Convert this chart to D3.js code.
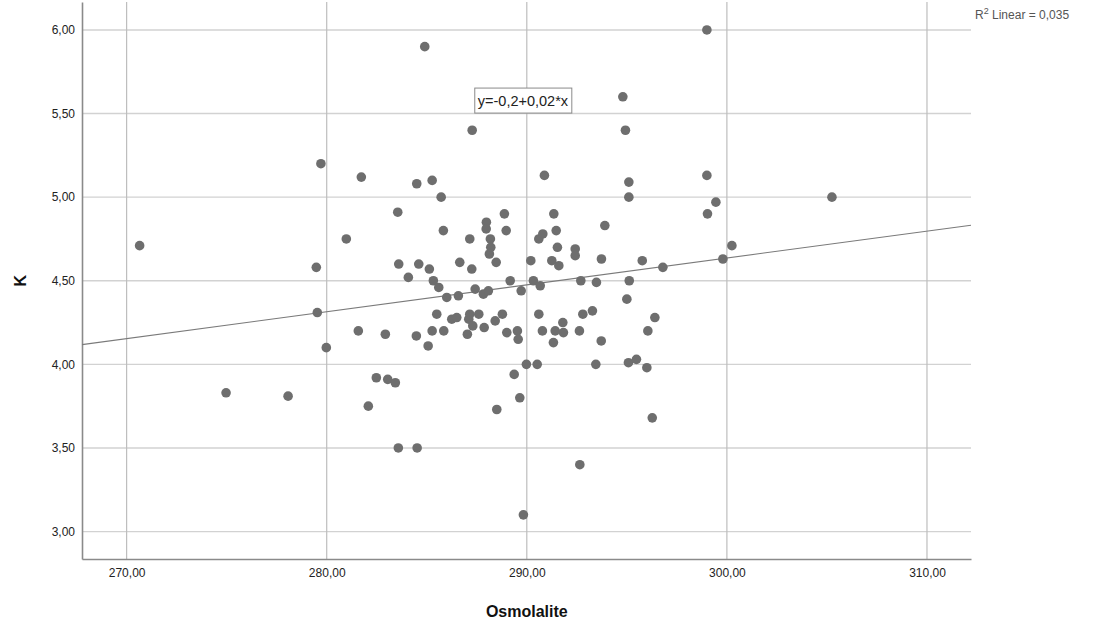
<!DOCTYPE html>
<html>
<head>
<meta charset="utf-8">
<script src="https://cdn.jsdelivr.net/npm/d3@7"></script>
<style>
  body { margin: 0; background: #fff; }
  svg { display: block; font-family: "Liberation Sans", Arial, sans-serif; }
</style>
</head>
<body>
<svg id="chart" width="1093" height="629"></svg>
<script>
// Osmolalite (x) / K (y)
const osmolalite = [
  270.65, 274.97, 278.07, 279.48, 279.53, 279.71, 279.98, 280.98, 281.58, 281.73,
  282.08, 282.48, 282.93, 283.05, 283.43, 283.55, 283.6, 283.58, 284.08, 284.48,
  284.5, 284.52, 284.6, 284.9, 285.07, 285.13, 285.27, 285.27, 285.33, 285.5,
  285.6, 285.72, 285.83, 285.85, 286.0, 286.25, 286.5, 286.58, 286.65, 287.03,
  287.1, 287.15, 287.25, 287.27, 287.3, 287.15, 287.6, 287.42, 287.83, 287.87,
  287.98, 287.97, 288.08, 288.13, 288.18, 288.2, 288.42, 288.47, 288.5, 288.78,
  288.88, 288.97, 289.0, 289.17, 289.37, 289.53, 289.57, 289.65, 289.72, 289.83,
  289.98, 290.2, 290.33, 290.52, 290.6, 290.6, 290.67, 290.78, 290.8, 290.88,
  291.25, 291.33, 291.35, 291.42, 291.47, 291.53, 291.6, 291.8, 291.83, 292.42,
  292.42, 292.63, 292.65, 292.7, 292.8, 293.28, 293.45, 293.48, 293.72, 293.73,
  293.9, 294.8, 294.93, 295.0, 295.08, 295.1, 295.1, 295.12, 295.48, 295.77,
  296.0, 296.05, 296.27, 296.4, 296.8, 299.0, 299.0, 299.03, 299.45, 299.8,
  300.25, 305.25
];
const potassium = [
  4.71, 3.83, 3.81, 4.58, 4.31, 5.20, 4.10, 4.75, 4.20, 5.12,
  3.75, 3.92, 4.18, 3.91, 3.89, 4.91, 4.60, 3.50, 4.52, 4.17,
  5.08, 3.50, 4.60, 5.90, 4.11, 4.57, 5.10, 4.20, 4.50, 4.30,
  4.46, 5.00, 4.80, 4.20, 4.40, 4.27, 4.28, 4.41, 4.61, 4.18,
  4.27, 4.75, 4.57, 5.40, 4.23, 4.30, 4.30, 4.45, 4.42, 4.22,
  4.85, 4.81, 4.44, 4.66, 4.75, 4.70, 4.26, 4.61, 3.73, 4.30,
  4.90, 4.80, 4.19, 4.50, 3.94, 4.20, 4.15, 3.80, 4.44, 3.10,
  4.00, 4.62, 4.50, 4.00, 4.30, 4.75, 4.47, 4.20, 4.78, 5.13,
  4.62, 4.13, 4.90, 4.20, 4.80, 4.70, 4.59, 4.25, 4.19, 4.69,
  4.65, 4.20, 3.40, 4.50, 4.30, 4.32, 4.00, 4.49, 4.14, 4.63,
  4.83, 5.60, 5.40, 4.39, 4.01, 5.09, 5.00, 4.50, 4.03, 4.62,
  3.98, 4.20, 3.68, 4.28, 4.58, 6.00, 5.13, 4.90, 4.97, 4.63,
  4.71, 5.00
];

const xTicks = [270, 280, 290, 300, 310];
const yTicks = [3.0, 3.5, 4.0, 4.5, 5.0, 5.5, 6.0];

// linear fit drawn in the picture
const fitIntercept = -0.185;
const fitSlope = 0.01607;
const fitLabel = 'y=-0,2+0,02*x';
const r2Label = ' Linear = 0,035';

const svg = d3.select('#chart');

const PLOT_LEFT = 82;
const PLOT_RIGHT = 971;
const PLOT_TOP = 2;
const PLOT_BOTTOM = 559;

const x = d3.scaleLinear().domain([267.77, 312.2]).range([PLOT_LEFT, PLOT_RIGHT]);
const y = d3.scaleLinear().domain([2.836, 6.167]).range([PLOT_BOTTOM, PLOT_TOP]);

const fmt = d3.formatLocale({ decimal: ',', thousands: '.', grouping: [3], currency: ['', ''] }).format('.2f');

// grid
svg.append('g')
    .selectAll('line')
    .data(yTicks)
    .join('line')
    .attr('x1', PLOT_LEFT)
    .attr('x2', PLOT_RIGHT)
    .attr('y1', d => y(d))
    .attr('y2', d => y(d))
    .attr('stroke', '#d2d2d2')
    .attr('stroke-width', 1.4);

svg.append('g')
    .selectAll('line')
    .data(xTicks)
    .join('line')
    .attr('x1', d => x(d))
    .attr('x2', d => x(d))
    .attr('y1', PLOT_TOP)
    .attr('y2', PLOT_BOTTOM)
    .attr('stroke', '#bdbdbd')
    .attr('stroke-width', 1.2);

// axes
const xAxis = svg.append('g')
    .attr('transform', `translate(0,${PLOT_BOTTOM})`)
    .call(d3.axisBottom(x).tickValues(xTicks).tickFormat(fmt).tickSize(0).tickPadding(9));
const yAxis = svg.append('g')
    .attr('transform', `translate(${PLOT_LEFT},0)`)
    .call(d3.axisLeft(y).tickValues(yTicks).tickFormat(fmt).tickSize(0).tickPadding(7));

[xAxis, yAxis].forEach(a => {
    a.select('.domain').attr('stroke', '#8a8a8a').attr('stroke-width', 1.6);
    a.selectAll('text').attr('fill', '#222').attr('font-size', 12)
        .attr('font-family', '"Liberation Sans", Arial, sans-serif');
});

// fit line
const xd = x.domain();
svg.append('line')
    .attr('x1', x(xd[0]))
    .attr('y1', y(fitIntercept + fitSlope * xd[0]))
    .attr('x2', x(xd[1]))
    .attr('y2', y(fitIntercept + fitSlope * xd[1]))
    .attr('stroke', '#7a7a7a')
    .attr('stroke-width', 1.1);

// points
svg.append('g')
    .selectAll('circle')
    .data(osmolalite.map((v, i) => [v, potassium[i]]))
    .join('circle')
    .attr('cx', d => x(d[0]))
    .attr('cy', d => y(d[1]))
    .attr('r', 4.8)
    .attr('fill', '#6e6e6e');

// equation box
const eq = svg.append('g').attr('transform', `translate(${x(287.4)},${y(5.575)})`);
const eqText = eq.append('text')
    .attr('x', 3)
    .attr('y', 0)
    .attr('dy', '0.35em')
    .attr('font-size', 14.5)
    .attr('fill', '#222')
    .text(fitLabel);
const bb = eqText.node().getBBox();
eq.insert('rect', 'text')
    .attr('x', 0)
    .attr('y', bb.y - 5)
    .attr('width', bb.width + 6)
    .attr('height', bb.height + 9)
    .attr('fill', '#fff')
    .attr('stroke', '#8a8a8a')
    .attr('stroke-width', 1);

// R squared
const r2 = svg.append('text')
    .attr('x', 975)
    .attr('y', 19)
    .attr('font-size', 12)
    .attr('fill', '#555');
r2.append('tspan').text('R');
r2.append('tspan').attr('dy', -5).attr('font-size', 9).text('2');
r2.append('tspan').attr('dy', 5).text(r2Label);

// axis titles
svg.append('text')
    .attr('x', x(290))
    .attr('y', 617)
    .attr('text-anchor', 'middle')
    .attr('font-size', 16)
    .attr('font-weight', 'bold')
    .attr('fill', '#111')
    .text('Osmolalite');

svg.append('text')
    .attr('transform', `translate(26,${y(4.5)}) rotate(-90)`)
    .attr('text-anchor', 'middle')
    .attr('font-size', 16)
    .attr('font-weight', 'bold')
    .attr('fill', '#111')
    .text('K');
</script>
</body>
</html>
